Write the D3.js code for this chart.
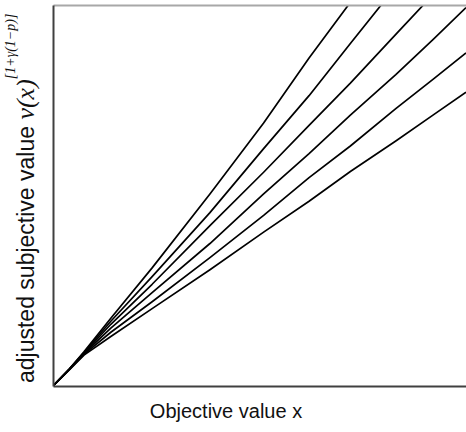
<!DOCTYPE html>
<html>
<head>
<meta charset="utf-8">
<script src="https://cdn.jsdelivr.net/npm/d3@7"></script>
<style>
  html, body { margin: 0; padding: 0; background: #fff; }
  svg { display: block; }
</style>
</head>
<body>
<svg id="chart" width="466" height="432"></svg>
<script>
// Objective value x (arbitrary units)
const xValues = [0, 0.4, 0.75, 1.4, 2.4, 3.8, 5.1, 6.2, 7.2, 8.3, 9.2, 10];

// Adjusted subjective value for six curves (steepest first)
const line1 = [0, 0.45, 0.90, 1.78, 3.10, 5.04, 6.90, 8.61, 10.07, 11.70, 12.95, 14.1];
const line2 = [0, 0.45, 0.88, 1.70, 2.87, 4.55, 6.23, 7.62, 8.99, 10.48, 11.60, 12.7];
const line3 = [0, 0.45, 0.86, 1.62, 2.67, 4.21, 5.61, 6.84, 7.95, 9.23, 10.27, 11.2];
const line4 = [0, 0.44, 0.85, 1.52, 2.45, 3.74, 5.04, 6.10, 7.11, 8.17, 9.09, 9.93];
const line5 = [0, 0.44, 0.83, 1.41, 2.21, 3.37, 4.48, 5.47, 6.30, 7.28, 8.05, 8.74];
const line6 = [0, 0.43, 0.81, 1.30, 2.03, 3.05, 4.04, 4.85, 5.63, 6.43, 7.11, 7.71];
const seriesList = [line1, line2, line3, line4, line5, line6];

const xDomain = [0, 10];
const yDomain = [0, 10];

const svg = d3.select("#chart");
const mLeft = 53, mRight = 466, mTop = 5, mBottom = 386;

const x = d3.scaleLinear().domain(xDomain).range([mLeft, mRight]);
const y = d3.scaleLinear().domain(yDomain).range([mBottom, mTop]);

svg.append("defs").append("clipPath").attr("id", "plotclip")
  .append("rect").attr("x", mLeft).attr("y", mTop)
  .attr("width", mRight - mLeft).attr("height", mBottom - mTop);

const line = d3.line().x((d, i) => x(xValues[i])).y(d => y(d));

svg.append("g").attr("clip-path", "url(#plotclip)")
  .selectAll("path").data(seriesList).enter().append("path")
  .attr("d", d => line(d))
  .attr("fill", "none")
  .attr("stroke", "#000")
  .attr("stroke-width", 1.7)
  .attr("stroke-linejoin", "round");

// top frame line (light)
svg.append("g").attr("transform", `translate(0,${mTop})`)
  .call(d3.axisTop(x).tickValues([]).tickSizeOuter(0))
  .call(g => g.select(".domain").attr("stroke", "#a8a8a8").attr("stroke-width", 2));

// left axis
svg.append("g").attr("transform", `translate(${mLeft},0)`)
  .call(d3.axisLeft(y).tickValues([]).tickSizeOuter(0))
  .call(g => g.select(".domain").attr("stroke", "#404040").attr("stroke-width", 2));

// bottom axis
svg.append("g").attr("transform", `translate(0,${mBottom})`)
  .call(d3.axisBottom(x).tickValues([]).tickSizeOuter(0))
  .call(g => g.select(".domain").attr("stroke", "#404040").attr("stroke-width", 2));

// x label
svg.append("text")
  .attr("x", 226).attr("y", 418)
  .attr("text-anchor", "middle")
  .attr("font-family", "'Liberation Sans', Arial, sans-serif")
  .attr("font-size", 20)
  .attr("fill", "#111")
  .text("Objective value x");

// y label
const yl = svg.append("text")
  .attr("transform", "translate(34,383) rotate(-90)")
  .attr("text-anchor", "start")
  .attr("fill", "#111");
yl.append("tspan")
  .attr("font-family", "'Liberation Sans', Arial, sans-serif")
  .attr("font-size", 23)
  .text("adjusted subjective value ");
yl.append("tspan")
  .attr("font-family", "'Liberation Serif', 'Times New Roman', serif")
  .attr("font-style", "italic")
  .attr("font-size", 26)
  .text("v(x)");
yl.append("tspan")
  .attr("font-family", "'Liberation Serif', 'Times New Roman', serif")
  .attr("font-style", "italic")
  .attr("font-size", 14)
  .attr("dy", -19)
  .text("[1+γ(1−p)]");
</script>
</body>
</html>
